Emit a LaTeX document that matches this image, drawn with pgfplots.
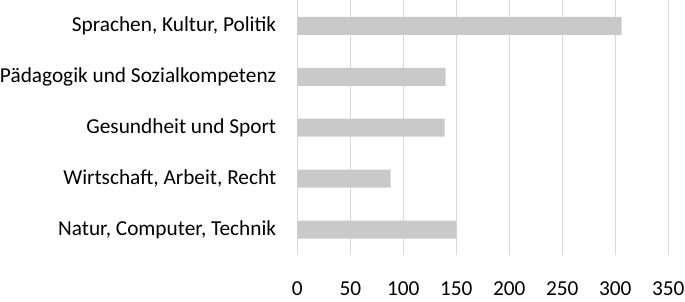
\documentclass[border=0pt]{standalone}
\usepackage{pgfplots}
\pgfplotsset{compat=1.18}
\usepackage{fontspec}
\setmainfont{Carlito}
\definecolor{barc}{HTML}{C9C9C9}
\definecolor{gridc}{HTML}{D9D9D9}
\begin{document}
\begin{tikzpicture}
\begin{axis}[
  scale only axis,
  width=371bp, height=254.5bp,
  xbar, bar width=18bp,
  xmin=0, xmax=350,
  ymin=-0.5, ymax=4.5,
  xtick={0,50,...,350},
  ytick={0,1,2,3,4},
  yticklabels={Natur{,} Computer{,} Technik, Wirtschaft{,} Arbeit{,} Recht, Gesundheit und Sport, Pädagogik und Sozialkompetenz, Sprachen{,} Kultur{,} Politik},
  axis x line*=bottom,
  axis y line*=left,
  x axis line style={draw=none, -},
  y axis line style={draw=gridc, line width=1bp, -},
  xmajorgrids, major grid style={draw=gridc, line width=1bp},
  major tick length=0pt,
  tick style={draw=none},
  xticklabels={0,50,100,150,200,250,300,350},
  xticklabel style={font=\fontsize{21.3bp}{25bp}\selectfont, anchor=base, inner sep=0pt, yshift=-40.5bp},
  yticklabel style={font=\fontsize{21.3bp}{25bp}\selectfont, anchor=east, inner sep=0pt, xshift=-21bp},
  clip=false,
]
\addplot[fill=barc, draw=none] coordinates {(150,0) (88,1) (139,2) (140,3) (306,4)};
\end{axis}
\path (current axis.south west) ++(-297.3bp,-46.5bp) rectangle ++(685bp,301bp);
\end{tikzpicture}
\end{document}
